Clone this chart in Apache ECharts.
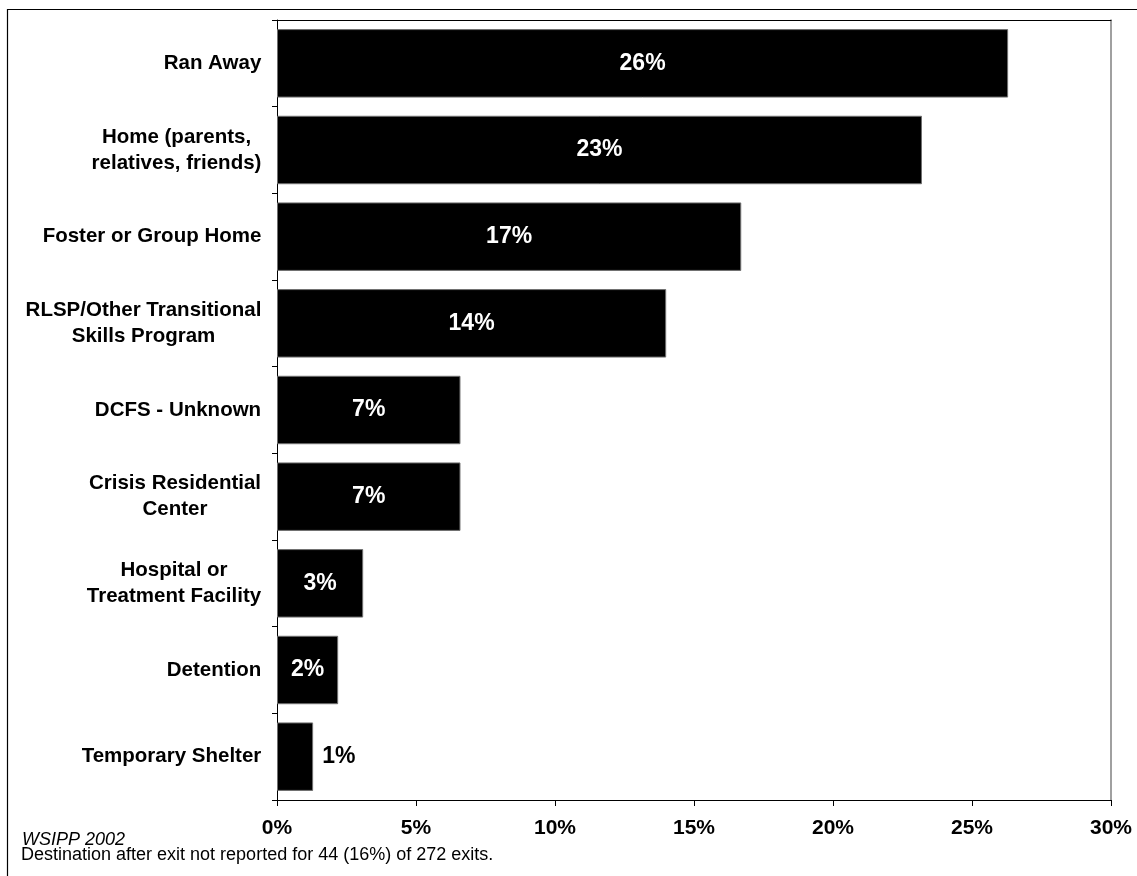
<!DOCTYPE html>
<html>
<head>
<meta charset="utf-8">
<script src="https://cdn.jsdelivr.net/npm/echarts@6/dist/echarts.min.js"></script>
<style>
html,body{margin:0;padding:0;background:#fff;}
#chart{width:1137px;height:876px;}
</style>
</head>
<body>
<div id="chart"></div>
<script>
// ---- data ----
var categories = [
  'Ran Away',
  'Home (parents,\nrelatives, friends)',
  'Foster or Group Home',
  'RLSP/Other Transitional\nSkills Program',
  'DCFS - Unknown',
  'Crisis Residential\nCenter',
  'Hospital or\nTreatment Facility',
  'Detention',
  'Temporary Shelter'
];
var values = [26.3, 23.2, 16.7, 14.0, 6.6, 6.6, 3.1, 2.2, 1.3];
var xTicks = [0, 5, 10, 15, 20, 25, 30];
var sourceNote = 'WSIPP 2002';
var footNote = 'Destination after exit not reported for 44 (16%) of 272 exits.';

var FONT = '"Liberation Sans", Arial, Helvetica, sans-serif';
var catFontSize = 20.5;

// measure label widths so multi-line labels can be centred within their block
var cv = document.createElement('canvas').getContext('2d');
cv.font = 'bold ' + catFontSize + 'px ' + FONT;
var rich = {};
categories.forEach(function (c, i) {
  var w = 0;
  c.split('\n').forEach(function (l) { w = Math.max(w, cv.measureText(l).width); });
  rich['c' + i] = {
    width: Math.ceil(w) + 1, align: 'center',
    fontFamily: FONT, fontWeight: 'bold', fontSize: catFontSize,
    lineHeight: 26, color: '#000'
  };
});

var seriesData = values.map(function (v, i) {
  var d = { value: v };
  if (v < 2) {
    d.label = { position: 'right', color: '#000', distance: 9 };
  }
  return d;
});

var chart = echarts.init(document.getElementById('chart'), null, { renderer: 'canvas' });
chart.setOption({
  backgroundColor: '#fff',
  animation: false,
  grid: { left: 277, right: 26, top: 20, bottom: 76, containLabel: false },
  xAxis: [{
    type: 'value', min: xTicks[0], max: xTicks[xTicks.length - 1], interval: 5,
    position: 'bottom',
    axisLine: { show: true, onZero: false, lineStyle: { color: '#000', width: 1 } },
    axisTick: { show: true, length: 6, lineStyle: { color: '#000' } },
    splitLine: { show: false },
    axisLabel: {
      margin: 18, formatter: '{value}%',
      fontFamily: FONT, fontWeight: 'bold', fontSize: 21, color: '#000'
    }
  }, {
    type: 'value', min: xTicks[0], max: xTicks[xTicks.length - 1], interval: 5,
    position: 'top',
    axisLine: { show: true, onZero: false, lineStyle: { color: '#000', width: 1 } },
    axisTick: { show: false }, axisLabel: { show: false }, splitLine: { show: false }
  }],
  yAxis: [{
    type: 'category', data: categories, inverse: true, position: 'left',
    axisLine: { show: true, onZero: false, lineStyle: { color: '#000', width: 1 } },
    axisTick: { show: true, length: 5, lineStyle: { color: '#000' } },
    axisLabel: {
      margin: 15,
      formatter: function (val, idx) {
        return val.split('\n').map(function (l) { return '{c' + idx + '|' + l + '}'; }).join('\n');
      },
      rich: rich
    }
  }, {
    type: 'category', data: categories, inverse: true, position: 'right',
    axisLine: { show: true, onZero: false, lineStyle: { color: '#808080', width: 1.5 } },
    axisTick: { show: false }, axisLabel: { show: false }
  }],
  series: [{
    type: 'bar',
    xAxisIndex: 0, yAxisIndex: 0,
    data: seriesData,
    barCategoryGap: '21%',
    itemStyle: { color: '#000', borderColor: '#707070', borderWidth: 1 },
    label: {
      show: true, position: 'inside', color: '#fff',
      fontFamily: FONT, fontWeight: 'bold', fontSize: 23,
      formatter: function (p) { return Math.round(p.value) + '%'; }
    }
  }],
  graphic: [{
    type: 'rect', silent: true,
    shape: { x: 7.5, y: 9.5, width: 1200, height: 900 },
    style: { fill: null, stroke: '#000', lineWidth: 1.2 }
  }, {
    type: 'text', left: 22, top: 831,
    style: { text: sourceNote, font: 'italic 18px ' + FONT, fill: '#000' }
  }, {
    type: 'text', left: 21, top: 846,
    style: { text: footNote, font: '18px ' + FONT, fill: '#000' }
  }]
});
</script>
</body>
</html>
